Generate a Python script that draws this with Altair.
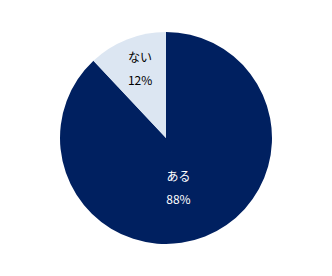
import altair as alt
import pandas as pd
import math

labels = ["ある", "ない"]
values = [88, 12]
colors = ["#002060", "#DCE6F2"]
text_colors = ["#ffffff", "#000000"]

df = pd.DataFrame({"label": labels, "value": values, "idx": [0, 1]})
df["text"] = df["label"] + "\n" + df["value"].astype(str) + "%"
total = df["value"].sum()
df["mid"] = (df["value"].cumsum() - df["value"] / 2) / total * 2 * math.pi

pie = alt.Chart(df).mark_arc(outerRadius=106).encode(
    theta=alt.Theta("value:Q", stack=True),
    order=alt.Order("idx:Q"),
    color=alt.Color("label:N", scale=alt.Scale(domain=labels, range=colors), legend=None),
)

def label_layer(name, color, radius, dx, dy):
    return alt.Chart(df).transform_filter(
        alt.datum.label == name
    ).mark_text(
        lineBreak="\n", lineHeight=23, fontSize=12, font="Noto Sans CJK JP",
        color=color, radius=radius, dx=dx, dy=dy,
    ).encode(
        theta=alt.Theta("mid:Q", scale=None),
        text="text:N",
    )

t1 = label_layer("ある", text_colors[0], 42, -3, 0)
t2 = label_layer("ない", text_colors[1], 84, 5, -2)

chart = alt.layer(pie, t1, t2).properties(
    width=332, height=276,
    autosize=alt.AutoSizeParams(type="fit", contains="padding"),
    padding=0,
).configure_view(stroke=None)

chart.save("out.html", embed_options={"renderer": "svg", "actions": False})
